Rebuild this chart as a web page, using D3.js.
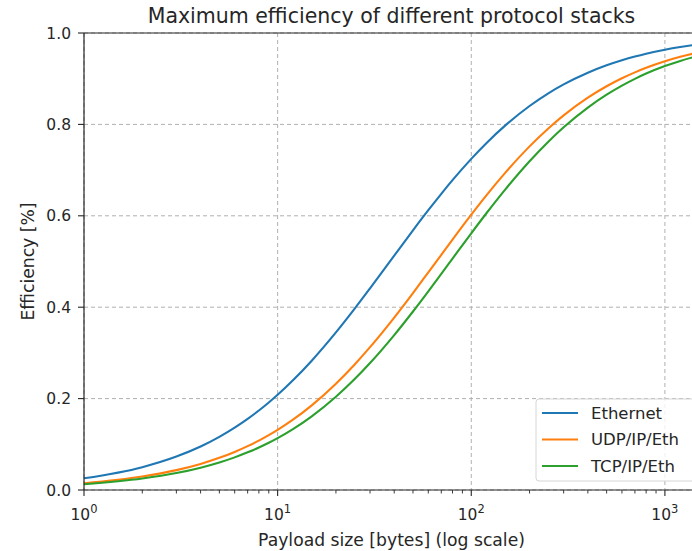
<!DOCTYPE html>
<meta charset="utf-8">
<head>
    <title>Maximum efficiency of different protocol stacks</title>
    <script src="https://d3js.org/d3.v7.min.js"></script>
    <style>
        body { margin: 0; background: #fff; }
        text { font-family: "DejaVu Sans", sans-serif; fill: #262626; }
    </style>
</head>
<body>
<div id="chart"></div>
<script>

// payload sizes [bytes] and efficiencies
var payload = [1, 2, 3, 4, 5, 6, 7, 8, 9, 10, 12, 15, 20, 25, 30, 40, 50, 60, 70, 80,
               100, 120, 150, 200, 250, 300, 400, 500, 600, 700, 800, 1000, 1200, 1500];
var ethernet = [0.0256, 0.050, 0.0732, 0.0952, 0.1163, 0.1364, 0.1556, 0.1739, 0.1915, 0.2083,
                0.240, 0.283, 0.3448, 0.3968, 0.4412, 0.5128, 0.5682, 0.6122, 0.6481, 0.678,
                0.7246, 0.7595, 0.7979, 0.8403, 0.8681, 0.8876, 0.9132, 0.9294, 0.9404, 0.9485,
                0.9547, 0.9634, 0.9693, 0.9753];
var udp = [0.0149, 0.0294, 0.0435, 0.0571, 0.0704, 0.0833, 0.0959, 0.1081, 0.120, 0.1316,
           0.1538, 0.1852, 0.2326, 0.2747, 0.3125, 0.3774, 0.431, 0.4762, 0.5147, 0.5479,
           0.6024, 0.6452, 0.6944, 0.7519, 0.7911, 0.8197, 0.8584, 0.8834, 0.9009, 0.9138,
           0.9238, 0.9381, 0.9479, 0.9579];
var tcp = [0.0127, 0.025, 0.037, 0.0488, 0.0602, 0.0714, 0.0824, 0.093, 0.1034, 0.1136,
           0.1333, 0.1613, 0.2041, 0.2427, 0.2778, 0.339, 0.3906, 0.4348, 0.473, 0.5063,
           0.5618, 0.6061, 0.6579, 0.7194, 0.7622, 0.7937, 0.8368, 0.8651, 0.885, 0.8997,
           0.9112, 0.9276, 0.939, 0.9506];
var seriesNames = ["Ethernet", "UDP/IP/Eth", "TCP/IP/Eth"];
var seriesValues = [ethernet, udp, tcp];
var colors = ["#1f77b4", "#ff7f0e", "#2ca02c"];
var yTicks = [0, 0.2, 0.4, 0.6, 0.8, 1.0];
var xTicks = [1, 10, 100, 1000];

var W = 692, H = 551;
var margin = {top: 33, right: -7, bottom: 61, left: 84},
    width = W - margin.left - margin.right,
    height = H - margin.top - margin.bottom;

var svg = d3.select("#chart")
    .append("svg")
    .attr("width", W)
    .attr("height", H)
    .append("g")
    .attr("transform", "translate(" + margin.left + "," + margin.top + ")");

var x = d3.scaleLog()
    .domain([1, 1500])
    .range([0, width]);
var y = d3.scaleLinear()
    .domain([0, 1])
    .range([height, 0]);

// grid
svg.append("g")
    .selectAll("line")
    .data(xTicks)
    .enter().append("line")
    .attr("x1", function(d) { return x(d); })
    .attr("x2", function(d) { return x(d); })
    .attr("y1", 0).attr("y2", height)
    .attr("stroke", "#b0b0b0")
    .attr("stroke-width", 1)
    .attr("stroke-dasharray", "4,3");
svg.append("g")
    .selectAll("line")
    .data(yTicks)
    .enter().append("line")
    .attr("x1", 0).attr("x2", width)
    .attr("y1", function(d) { return y(d); })
    .attr("y2", function(d) { return y(d); })
    .attr("stroke", "#b0b0b0")
    .attr("stroke-width", 1)
    .attr("stroke-dasharray", "4,3");

// lines
var line = d3.line()
    .x(function(d, i) { return x(payload[i]); })
    .y(function(d) { return y(d); })
    .curve(d3.curveMonotoneX);
seriesValues.forEach(function(vals, k) {
    svg.append("path")
        .datum(vals)
        .attr("fill", "none")
        .attr("stroke", colors[k])
        .attr("stroke-width", 2.1)
        .attr("d", line);
});

// X axis
var minor = [];
[1, 10, 100, 1000].forEach(function(dec) {
    for (var m = 2; m <= 9; m++) { if (dec * m <= 1500) minor.push(dec * m); }
});
var xAxis = svg.append("g")
    .attr("transform", "translate(0," + height + ")");
xAxis.append("line")
    .attr("x1", 0).attr("x2", width)
    .attr("stroke", "#262626").attr("stroke-width", 1.2);
xAxis.selectAll(".minor")
    .data(minor)
    .enter().append("line")
    .attr("x1", function(d) { return x(d); })
    .attr("x2", function(d) { return x(d); })
    .attr("y1", 0).attr("y2", 3.5)
    .attr("stroke", "#262626").attr("stroke-width", 0.9);
xAxis.selectAll(".major")
    .data(xTicks)
    .enter().append("line")
    .attr("x1", function(d) { return x(d); })
    .attr("x2", function(d) { return x(d); })
    .attr("y1", 0).attr("y2", 6)
    .attr("stroke", "#262626").attr("stroke-width", 1.1);
var xl = xAxis.selectAll(".lab")
    .data(xTicks)
    .enter().append("text")
    .attr("x", function(d) { return x(d); })
    .attr("y", 30)
    .attr("text-anchor", "middle")
    .style("font-size", "15.5px");
xl.append("tspan").text("10");
xl.append("tspan")
    .attr("dy", -7)
    .style("font-size", "11.5px")
    .text(function(d) { return Math.round(Math.log10(d)); });

// Y axis
var yAxis = svg.append("g");
yAxis.append("line")
    .attr("y1", 0).attr("y2", height)
    .attr("stroke", "#262626").attr("stroke-width", 1.2);
yAxis.selectAll(".major")
    .data(yTicks)
    .enter().append("line")
    .attr("x1", -6).attr("x2", 0)
    .attr("y1", function(d) { return y(d); })
    .attr("y2", function(d) { return y(d); })
    .attr("stroke", "#262626").attr("stroke-width", 1.1);
yAxis.selectAll(".lab")
    .data(yTicks)
    .enter().append("text")
    .attr("x", -13)
    .attr("y", function(d) { return y(d); })
    .attr("dy", "0.36em")
    .attr("text-anchor", "end")
    .style("font-size", "15.5px")
    .text(function(d) { return d.toFixed(1); });

// top spine
svg.append("line")
    .attr("x1", 0).attr("x2", width)
    .attr("y1", 0).attr("y2", 0)
    .attr("stroke", "#262626").attr("stroke-width", 1.2);

// title and labels
svg.append("text")
    .attr("x", width / 2).attr("y", -10)
    .attr("text-anchor", "middle")
    .style("font-size", "20.5px")
    .text("Maximum efficiency of different protocol stacks");
svg.append("text")
    .attr("x", width / 2).attr("y", height + 56)
    .attr("text-anchor", "middle")
    .style("font-size", "17.2px")
    .text("Payload size [bytes] (log scale)");
svg.append("text")
    .attr("transform", "rotate(-90)")
    .attr("x", -height / 2).attr("y", -50)
    .attr("text-anchor", "middle")
    .style("font-size", "17.2px")
    .text("Efficiency [%]");

// legend
var lg = svg.append("g")
    .attr("transform", "translate(" + (536 - margin.left) + "," + (399 - margin.top) + ")");
lg.append("rect")
    .attr("width", 166).attr("height", 82)
    .attr("rx", 3)
    .attr("fill", "#fff").attr("fill-opacity", 0.8)
    .attr("stroke", "#d6d6d6");
seriesNames.forEach(function(name, k) {
    var yy = 14 + k * 26.5;
    lg.append("line")
        .attr("x1", 6).attr("x2", 42)
        .attr("y1", yy).attr("y2", yy)
        .attr("stroke", colors[k]).attr("stroke-width", 2.1);
    lg.append("text")
        .attr("x", 55).attr("y", yy)
        .attr("dy", "0.36em")
        .style("font-size", "16.5px")
        .text(name);
});
</script>
</body>
</html>
